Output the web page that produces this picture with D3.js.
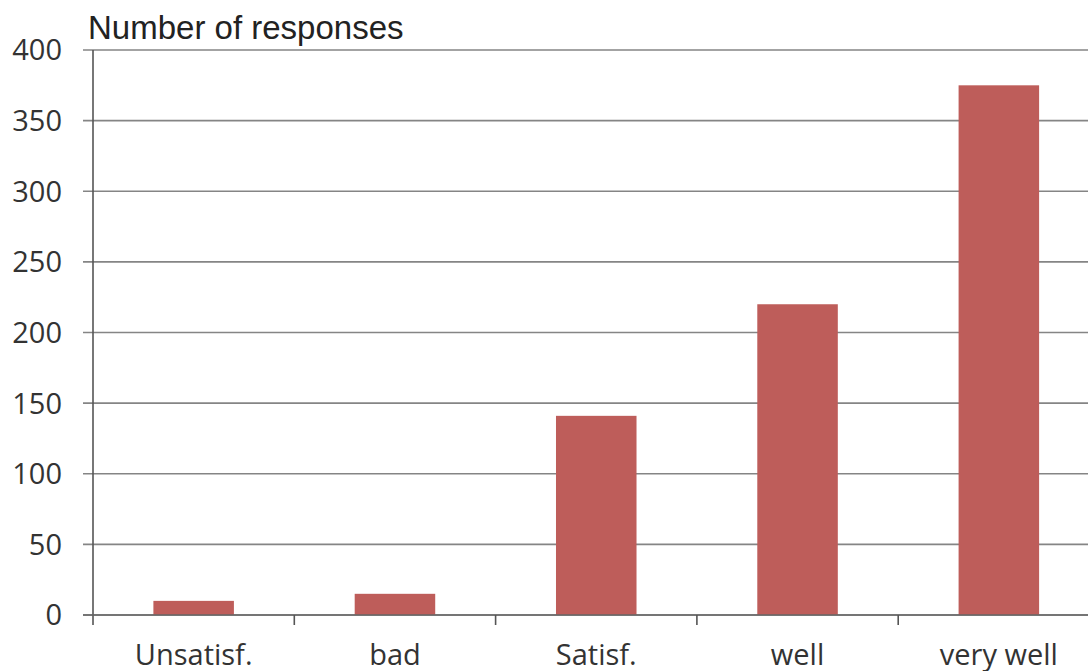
<!DOCTYPE html>
<html>
<head>
<meta charset="utf-8">
<script src="https://cdn.jsdelivr.net/npm/d3@7/dist/d3.min.js"></script>
<style>
  html, body { margin: 0; padding: 0; background: #fff; }
  svg { display: block; }
</style>
</head>
<body>
<svg id="chart" width="1088" height="671"></svg>
<script>
// Survey answers: how well the course went
const categories = ["Unsatisf.", "bad", "Satisf.", "well", "very well"];
const responses = [10, 15, 141, 220, 375];
const yTicks = [0, 50, 100, 150, 200, 250, 300, 350, 400];
const yTitle = "Number of responses";

const svg = d3.select("#chart");
const plotLeft = 93, plotTop = 50, plotBottom = 615, plotRight = 1099.5;

const x = d3.scaleBand()
  .domain(categories)
  .range([plotLeft, plotRight])
  .paddingInner(0.6)
  .paddingOuter(0.3);

const xEdge = d3.scaleBand()
  .domain(categories)
  .range([plotLeft, plotRight])
  .padding(0);

const y = d3.scaleLinear().domain([0, 400]).range([plotBottom, plotTop]);

// horizontal gridlines, extending left as tick marks
svg.append("g")
  .selectAll("line")
  .data(yTicks)
  .join("line")
  .attr("x1", plotLeft - 10)
  .attr("x2", 1088)
  .attr("y1", d => y(d))
  .attr("y2", d => y(d))
  .attr("stroke", "#858585")
  .attr("stroke-width", 1.6);

// bars
svg.append("g")
  .selectAll("rect")
  .data(categories)
  .join("rect")
  .attr("x", d => x(d))
  .attr("width", x.bandwidth())
  .attr("y", (d, i) => y(responses[i]))
  .attr("height", (d, i) => y(0) - y(responses[i]))
  .attr("fill", "#be5d5a");

// y axis line
svg.append("line")
  .attr("x1", plotLeft).attr("x2", plotLeft)
  .attr("y1", plotTop).attr("y2", plotBottom + 10)
  .attr("stroke", "#555")
  .attr("stroke-width", 1.6);

// x axis baseline
svg.append("line")
  .attr("x1", plotLeft - 10).attr("x2", 1088)
  .attr("y1", plotBottom).attr("y2", plotBottom)
  .attr("stroke", "#666")
  .attr("stroke-width", 1.6);

// category boundary ticks
svg.append("g")
  .selectAll("line")
  .data(categories.slice(1))
  .join("line")
  .attr("x1", d => xEdge(d))
  .attr("x2", d => xEdge(d))
  .attr("y1", plotBottom)
  .attr("y2", plotBottom + 10)
  .attr("stroke", "#555")
  .attr("stroke-width", 1.6);

// y tick labels
svg.append("g")
  .selectAll("text")
  .data(yTicks)
  .join("text")
  .attr("x", 62)
  .attr("y", d => y(d))
  .attr("dy", "0.36em")
  .attr("text-anchor", "end")
  .attr("font-family", "'Open Sans', sans-serif")
  .attr("font-size", 29)
  .attr("fill", "#333")
  .text(d => d);

// category labels
svg.append("g")
  .selectAll("text")
  .data(categories)
  .join("text")
  .attr("x", d => x(d) + x.bandwidth() / 2)
  .attr("y", 665)
  .attr("text-anchor", "middle")
  .attr("font-family", "'Open Sans', sans-serif")
  .attr("font-size", 29)
  .attr("fill", "#333")
  .text(d => d);

// axis title
svg.append("text")
  .attr("x", 88)
  .attr("y", 39)
  .attr("font-family", "'Liberation Sans', Arial, sans-serif")
  .attr("font-size", 33)
  .attr("fill", "#222")
  .text(yTitle);
</script>
</body>
</html>
